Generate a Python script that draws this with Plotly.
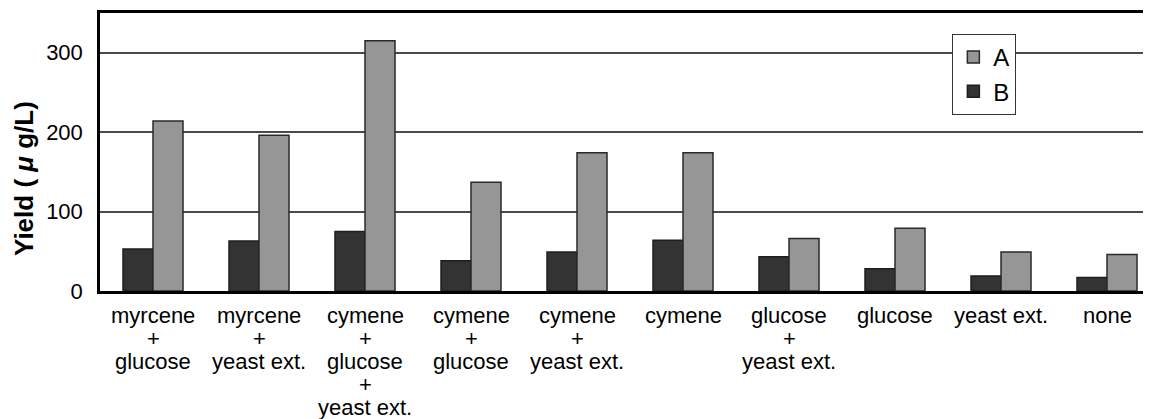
import plotly.graph_objects as go

categories = [
    "myrcene<br>+<br>glucose",
    "myrcene<br>+<br>yeast ext.",
    "cymene<br>+<br>glucose<br>+<br>yeast ext.",
    "cymene<br>+<br>glucose",
    "cymene<br>+<br>yeast ext.",
    "cymene",
    "glucose<br>+<br>yeast ext.",
    "glucose",
    "yeast ext.",
    "none",
]
series_a = [214, 196, 315, 137, 174, 174, 66, 79, 49, 46]
series_b = [53, 63, 75, 38, 49, 64, 43, 28, 19, 17]
y_ticks = [0, 100, 200, 300]

FONT = "Liberation Sans, Arial, sans-serif"

# page body has an 8px margin; figure is sized/offset to compensate
W, H = 1143, 411
ML, MT, MB = 92, 5, 128

fig = go.Figure()
fig.add_trace(go.Bar(
    name="B", x=categories, y=series_b, legendrank=2,
    marker=dict(color="#333333", line=dict(color="#1e1e1e", width=1.5)),
))
fig.add_trace(go.Bar(
    name="A", x=categories, y=series_a, legendrank=1,
    marker=dict(color="#969696", line=dict(color="#2a2a2a", width=1.5)),
))

annotations = []
line_step = 23.0
first_offset = 24.0
for cat in categories:
    for i, line in enumerate(cat.split("<br>")):
        annotations.append(dict(
            x=cat, xref="x", y=0, yref="paper",
            text=line, showarrow=False,
            xanchor="center", yanchor="middle",
            yshift=-(first_offset + i * line_step),
            font=dict(family=FONT, size=22, color="#000000"),
        ))

# y-axis title
annotations.append(dict(
    x=-0.0723, xref="paper", y=0.403, yref="paper",
    text="<b>Yield ( <i>μ</i> g/L)</b>", showarrow=False, textangle=-90,
    xanchor="center", yanchor="middle",
    font=dict(family=FONT, size=26, color="#000000"),
))

fig.update_layout(
    width=W, height=H,
    margin=dict(l=ML, r=0, t=MT, b=MB, autoexpand=False),
    paper_bgcolor="white", plot_bgcolor="white",
    barmode="group", bargap=0.434, bargroupgap=0,
    font=dict(family=FONT, size=22, color="#000000"),
    showlegend=True,
    legend=dict(
        x=0.811, y=0.925, xanchor="left", yanchor="top",
        bordercolor="#333333", borderwidth=1, bgcolor="white",
        font=dict(family=FONT, size=24, color="#000000"),
    ),
    annotations=annotations,
    xaxis=dict(
        range=[-0.5, 9.415], showticklabels=False, ticks="",
        showline=True, linecolor="#000000", linewidth=3, mirror=True,
        showgrid=False, zeroline=False,
    ),
    yaxis=dict(
        range=[0, 350], tickvals=y_ticks, ticks="",
        ticklabelstandoff=10,
        tickfont=dict(family=FONT, size=22, color="#000000"),
        showline=True, linecolor="#000000", linewidth=2.5,
        showgrid=True, gridcolor="#4a4a4a", gridwidth=1.5,
        zeroline=False,
    ),
)

fig.write_html("out.html")
